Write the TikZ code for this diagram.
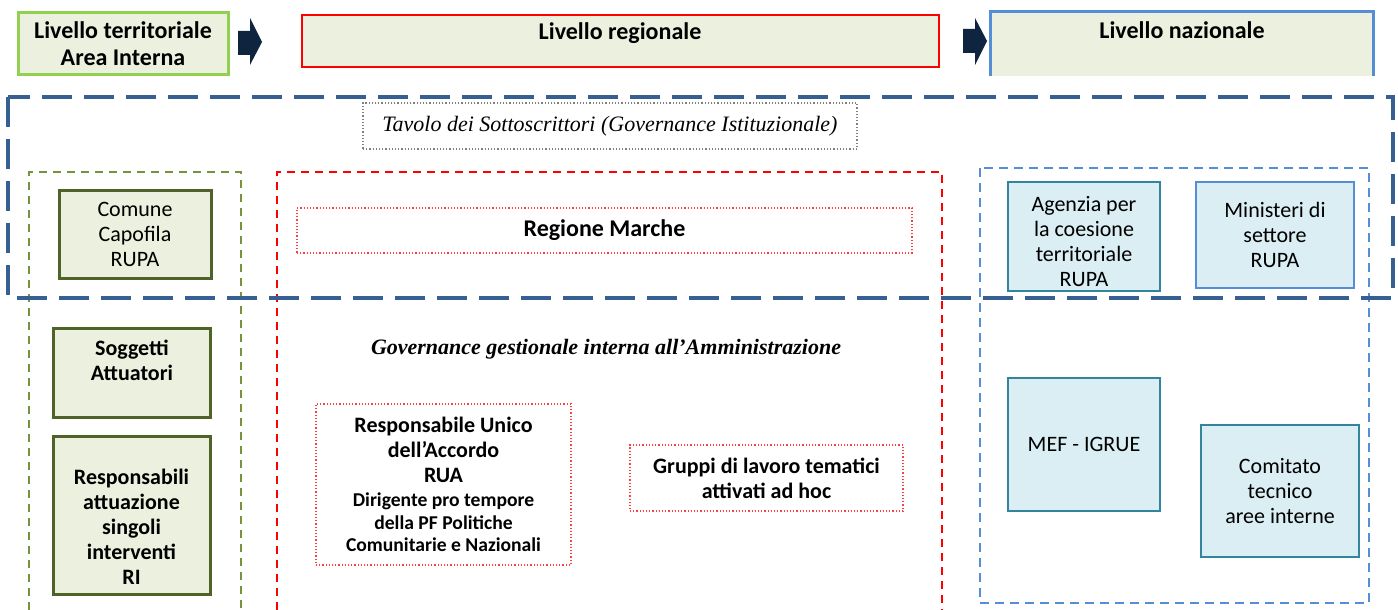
\documentclass[tikz,border=0pt]{standalone}
\usepackage{fontspec}
\setmainfont{Carlito}
\newfontfamily\timesfont{Liberation Serif}
\usepackage{tikz}
\usepackage{color}

\definecolor{panelgreen}{HTML}{EBF1DE}
\definecolor{lightgreenline}{HTML}{92D050}
\definecolor{navyline}{HTML}{376092}
\definecolor{oliveline}{HTML}{77933C}
\definecolor{olivedark}{HTML}{4F6228}
\definecolor{tealline}{HTML}{31859C}
\definecolor{paleblue}{HTML}{DAEEF3}
\definecolor{blueline}{HTML}{558ED5}
\definecolor{pinkred}{HTML}{FF4040}
\definecolor{grayline}{HTML}{7F7F7F}
\definecolor{arrownavy}{HTML}{0F243E}

\begin{document}
\begin{tikzpicture}[x=0.5pt, y=-0.5pt,
                    head_box/.style={fill=panelgreen, inner sep=0pt, align=center, font=\bfseries\fontsize{12}{13.5}\selectfont},
                    olive_box/.style={draw=olivedark, line width=1.5pt, fill=panelgreen, inner sep=0pt, align=center, font=\fontsize{11}{12.5}\selectfont},
                    teal_box/.style={draw=tealline, line width=1pt, fill=paleblue, inner sep=0pt, align=center, font=\fontsize{11}{12.5}\selectfont},
                    dotted_box/.style={draw=pinkred, densely dotted, line width=0.6pt, inner sep=0pt, align=center, font=\bfseries\fontsize{11}{12.5}\selectfont},
                    frame_navy/.style={draw=navyline, line width=2pt, dash pattern=on 15pt off 6pt},
                    frame_olive/.style={draw=oliveline, line width=1pt, dash pattern=on 4pt off 3pt},
                    frame_red/.style={draw=red, line width=1pt, dash pattern=on 4pt off 3pt},
                    frame_blue/.style={draw=blueline, line width=1.2pt, dash pattern=on 4.5pt off 3pt},
                    block_arrow/.style={fill=arrownavy}
                ]
                    \useasboundingbox (0,0) rectangle (1398,610);

                    \node[head_box, draw=lightgreenline, line width=1.5pt, minimum width=105pt, minimum height=31pt] (terr_head) at (123,44) {Livello territoriale\\Area Interna};
                    \node[head_box, draw=red, line width=1pt, minimum width=318.5pt, minimum height=26pt] (reg_head) at (620,41) {};
                    \node[font=\bfseries\fontsize{12}{13.5}\selectfont] (reg_title) at (620,33) {Livello regionale};
                    \node[head_box, minimum width=191pt, minimum height=32pt] (naz_head) at (1182,44) {Livello nazionale\\~};
                    \draw[blueline, line width=1.2pt] (naz_head.south west) |- (naz_head.north east) -- (naz_head.south east);

                    \fill[block_arrow] (238,31) -- (250,31) -- (250,18) -- (262,42) -- (250,65) -- (250,55) -- (238,55) -- cycle;
                    \fill[block_arrow] (963,29) -- (975,29) -- (975,18) -- (987,41) -- (975,65) -- (975,53) -- (963,53) -- cycle;

                    \draw[frame_olive] (29,610) |- (241,172) -- (241,610);
                    \draw[frame_red] (277,610) |- (942,172) -- (942,610);
                    \draw[frame_blue] (980,168) rectangle (1369,603);
                    \draw[frame_navy] (8,97) rectangle (1393,298);

                    \node[draw=grayline, densely dotted, line width=0.6pt, minimum width=247pt, minimum height=23pt, inner sep=0pt, font=\timesfont\itshape\fontsize{11}{12}\selectfont] (tavolo) at (610,126) {Tavolo dei Sottoscrittori (Governance Istituzionale)};

                    \node[olive_box, minimum width=76pt, minimum height=44pt] (comune) at (135,234.5) {Comune\\Capofila\\RUPA};
                    \node[olive_box, font=\bfseries\fontsize{11}{12.5}\selectfont, minimum width=78.5pt, minimum height=44.5pt] (soggetti) at (132,372.5) {Soggetti\\Attuatori\\~};
                    \node[olive_box, font=\bfseries\fontsize{11}{12.5}\selectfont, minimum width=78.5pt, minimum height=79pt] (resp_ri) at (131.5,515) {~\\[7pt]Responsabili\\attuazione\\singoli\\interventi\\RI};

                    \node[dotted_box, font=\bfseries\fontsize{12}{13.5}\selectfont, minimum width=307.5pt, minimum height=22.5pt] (regione) at (604.5,230.5) {Regione Marche};
                    \node[font=\timesfont\bfseries\itshape\fontsize{11}{13}\selectfont] (gov_text) at (606,349) {Governance gestionale interna all’Amministrazione};
                    \node[dotted_box, minimum width=127.5pt, minimum height=80.5pt] (rua) at (443.5,484.5) {Responsabile Unico\\dell’Accordo\\RUA\\[-0.5pt]{\fontsize{9.8}{11}\selectfont Dirigente pro tempore}\\[-1.3pt]{\fontsize{9.8}{11}\selectfont della PF Politiche}\\[-1.3pt]{\fontsize{9.8}{11}\selectfont Comunitarie e Nazionali}};
                    \node[dotted_box, minimum width=136.5pt, minimum height=33pt] (gruppi) at (766.5,478) {Gruppi di lavoro tematici\\attivati ad hoc};

                    \node[teal_box, minimum width=76pt, minimum height=54.5pt] (agenzia) at (1084,236.5) {\rule{0pt}{13pt}Agenzia per\\la coesione\\territoriale\\RUPA};
                    \node[teal_box, draw=blueline, minimum width=79pt, minimum height=53pt] (ministeri) at (1275,235) {Ministeri di\\settore\\RUPA};
                    \node[teal_box, minimum width=76pt, minimum height=66.5pt] (mef) at (1084,444.5) {MEF - IGRUE};
                    \node[teal_box, minimum width=79pt, minimum height=66pt] (comitato) at (1280,491) {Comitato\\tecnico\\aree interne};
                \end{tikzpicture}
\end{document}
